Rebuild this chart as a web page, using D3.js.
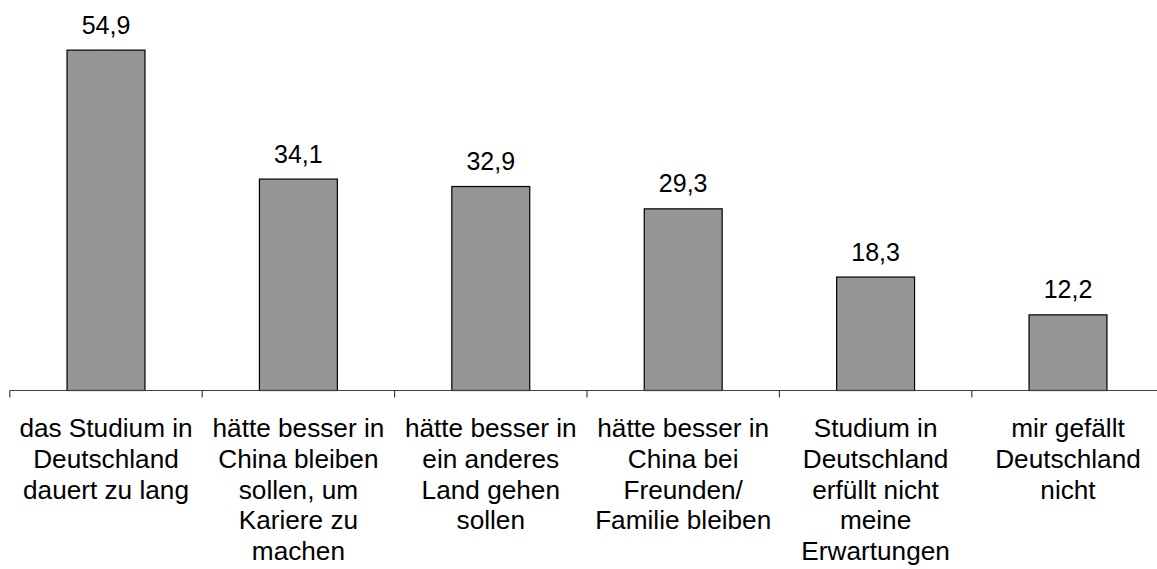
<!DOCTYPE html>
<html>
<head>
<meta charset="utf-8">
<script src="https://cdn.jsdelivr.net/npm/d3@7"></script>
<style>
  html, body { margin: 0; padding: 0; background: #fff; }
  svg { display: block; font-family: "Liberation Sans", Arial, sans-serif; }
</style>
</head>
<body>
<svg id="chart" width="1157" height="569"></svg>
<script>
// Gründe für Unzufriedenheit (Anteile in %)
const categories = [
  "das Studium in Deutschland dauert zu lang",
  "hätte besser in China bleiben sollen, um Kariere zu machen",
  "hätte besser in ein anderes Land gehen sollen",
  "hätte besser in China bei Freunden/ Familie bleiben",
  "Studium in Deutschland erfüllt nicht meine Erwartungen",
  "mir gefällt Deutschland nicht"
];
const categoryLines = [
  ["das Studium in", "Deutschland", "dauert zu lang"],
  ["hätte besser in", "China bleiben", "sollen, um", "Kariere zu", "machen"],
  ["hätte besser in", "ein anderes", "Land gehen", "sollen"],
  ["hätte besser in", "China bei", "Freunden/", "Familie bleiben"],
  ["Studium in", "Deutschland", "erfüllt nicht", "meine", "Erwartungen"],
  ["mir gefällt", "Deutschland", "nicht"]
];
const values = [54.9, 34.1, 32.9, 29.3, 18.3, 12.2];

const svg = d3.select("#chart");
const baseY = 390.5;
const left = 9.8, right = 1164.2;

// Category slots (tick boundaries) and bar positions
const xSlot = d3.scaleBand().domain(categories).range([left, right]).padding(0);
const xBar = d3.scaleBand().domain(categories).range([left, right])
  .paddingInner(0.595).paddingOuter(0.2975);
const y = d3.scaleLinear().domain([0, 60]).range([baseY, baseY - 60 * 6.2]);

const fmt = v => d3.format(".1f")(v).replace(".", ",");

// Bars
svg.append("g").selectAll("rect")
  .data(values)
  .join("rect")
  .attr("x", (d, i) => xBar(categories[i]))
  .attr("y", d => y(d))
  .attr("width", xBar.bandwidth())
  .attr("height", d => baseY - y(d))
  .attr("fill", "#969696")
  .attr("stroke", "#000")
  .attr("stroke-width", 1.2);

// Value labels
svg.append("g").selectAll("text")
  .data(values)
  .join("text")
  .attr("x", (d, i) => xBar(categories[i]) + xBar.bandwidth() / 2)
  .attr("y", d => y(d) - 16.5)
  .attr("text-anchor", "middle")
  .attr("font-size", 25)
  .attr("fill", "#000")
  .text(d => fmt(d));

// Category axis
const axis = svg.append("g").attr("stroke", "#404040").attr("stroke-width", 1.2);
axis.append("line")
  .attr("x1", left).attr("x2", right)
  .attr("y1", baseY).attr("y2", baseY);
const bounds = categories.map(c => xSlot(c)).concat([right]);
axis.selectAll("line.tick")
  .data(bounds)
  .join("line")
  .attr("class", "tick")
  .attr("x1", d => d).attr("x2", d => d)
  .attr("y1", baseY).attr("y2", baseY + 7);

// Category labels
const lab = svg.append("g").selectAll("text")
  .data(categoryLines)
  .join("text")
  .attr("text-anchor", "middle")
  .attr("font-size", 26.2)
  .attr("fill", "#000");
lab.each(function(lines, i) {
  const cx = xSlot(categories[i]) + xSlot.bandwidth() / 2;
  d3.select(this).selectAll("tspan")
    .data(lines)
    .join("tspan")
    .attr("x", cx)
    .attr("y", (d, j) => 437 + j * 30.8)
    .text(d => d);
});
</script>
</body>
</html>
